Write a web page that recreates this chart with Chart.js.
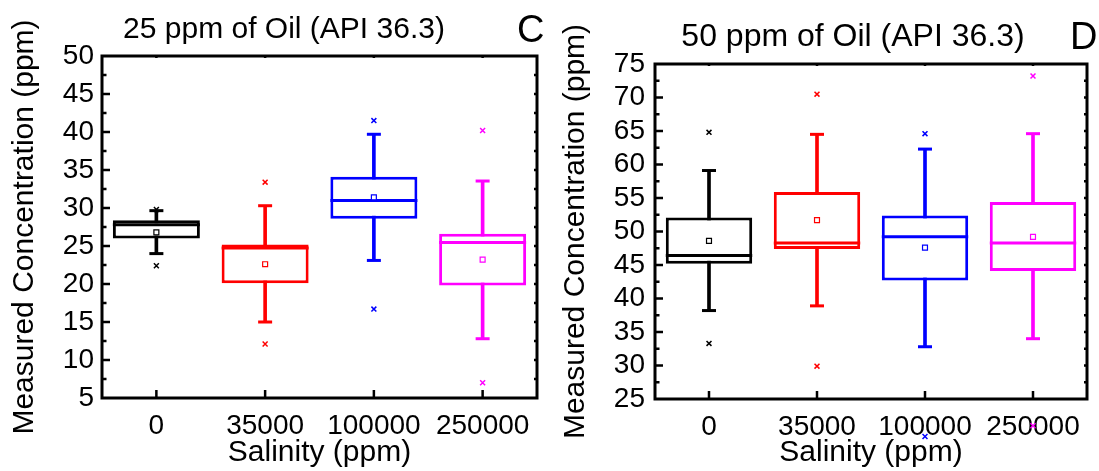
<!DOCTYPE html>
<html>
<head>
<meta charset="utf-8">
<script src="https://cdn.jsdelivr.net/npm/chart.js@4.4.1/dist/chart.umd.min.js"></script>
<style>
  html, body { margin: 0; padding: 0; background: #fff; }
  #wrap { position: relative; width: 1099px; height: 471px; overflow: hidden; font-family: "Liberation Sans", Arial, sans-serif; color: #000; }
  .panel { position: absolute; top: 0; height: 471px; }
  .titulo { position: absolute; white-space: nowrap; transform: translateX(-50%); }
  .letra { position: absolute; font-size: 38px; line-height: 38px; }
</style>
</head>
<body>
<div id="wrap">
  <div class="panel" style="left:0;width:550px"><canvas id="graficoC" width="550" height="471"></canvas></div>
  <div class="panel" style="left:550px;width:549px"><canvas id="graficoD" width="549" height="471"></canvas></div>
  <div class="titulo" style="left:284px;top:13px;font-size:30px;line-height:30px">25 ppm of Oil (API 36.3)</div>
  <div class="letra" style="left:517px;top:10px">C</div>
  <div class="titulo" style="left:853px;top:19px;font-size:32px;line-height:32px">50 ppm of Oil (API 36.3)</div>
  <div class="letra" style="left:1070px;top:17px">D</div>
</div>
<script>
// categorias (salinidad, ppm)
const salinidad = ['0', '35000', '100000', '250000'];
const colores = ['#000000', '#ff0000', '#0000ff', '#ff00ff'];

// panel C: 25 ppm de aceite
const q1C = [26.0, 20.1, 28.6, 19.8];
const medianaC = [27.8, 24.75, 31.0, 25.45];
const q3C = [28.4, 25.2, 34.1, 26.6];
const bigoteBajoC = [24.0, 15.0, 23.1, 12.8];
const bigoteAltoC = [29.65, 30.3, 39.7, 33.55];
const mediaC = [26.8, 22.6, 31.4, 23.2];
const atipicoBajoC = [22.4, 12.1, 16.7, 7.0];
const atipicoAltoC = [29.8, 33.4, 41.5, 40.2];
const ticksC = { min: 5, max: 50, paso: 5 };

// panel D: 50 ppm de aceite
const q1D = [45.2, 47.4, 42.7, 44.1];
const medianaD = [46.4, 48.3, 49.2, 48.3];
const q3D = [52.1, 55.9, 52.4, 54.4];
const bigoteBajoD = [38.2, 38.9, 32.8, 34.0];
const bigoteAltoD = [59.1, 64.5, 62.3, 64.6];
const mediaD = [48.6, 51.7, 47.6, 49.2];
const atipicoBajoD = [33.3, 29.9, 19.4, 21.0];
const atipicoAltoD = [64.8, 70.5, 64.6, 73.2];
const ticksD = { min: 25, max: 75, paso: 5 };

Chart.defaults.font.family = '"Liberation Sans", Arial, sans-serif';
Chart.defaults.color = '#000';

// marco del grafico con ticks hacia adentro
const marco = {
  id: 'marco',
  afterDatasetsDraw(chart) {
    const { ctx, chartArea: a, scales: { x, y } } = chart;
    ctx.save();
    ctx.strokeStyle = '#000';
    ctx.lineWidth = 3;
    ctx.strokeRect(a.left, a.top, a.right - a.left, a.bottom - a.top);
    ctx.lineWidth = 2.5;
    ctx.beginPath();
    const medio = y.options.ticks.stepSize / 2;
    for (let v = y.min + medio; v < y.max - 0.01; v += medio) {
      const py = y.getPixelForValue(v);
      const largo = Math.round((v - y.min) / medio) % 2 === 0 ? 8 : 4.5;
      ctx.moveTo(a.left, py); ctx.lineTo(a.left + largo, py);
      ctx.moveTo(a.right, py); ctx.lineTo(a.right - 3, py);
    }
    x.ticks.forEach((t, i) => {
      const px = x.getPixelForTick(i);
      ctx.moveTo(px, a.bottom); ctx.lineTo(px, a.bottom - 8);
      ctx.moveTo(px, a.top); ctx.lineTo(px, a.top + 2);
    });
    ctx.stroke();

    // puntos atipicos fuera del area (Chart.js no los dibuja)
    chart.data.datasets.forEach((ds, i) => {
      if (!ds.fueraDeArea) return;
      chart.getDatasetMeta(i).data.forEach(p => {
        if (p.y >= a.top && p.y <= a.bottom) return;
        const o = p.options;
        ctx.strokeStyle = o.borderColor;
        ctx.fillStyle = o.backgroundColor;
        ctx.lineWidth = o.borderWidth;
        Chart.helpers.drawPoint(ctx, o, p.x, p.y);
      });
    });
    ctx.restore();
  }
};

function puntos(data, estilo, radio, ancho, extra) {
  return Object.assign({
    type: 'line', data, showLine: false, pointStyle: estilo, pointRadius: radio,
    pointBorderColor: colores, pointBackgroundColor: '#fff', pointBorderWidth: ancho,
    order: 0
  }, extra || {});
}

// la mediana ocupa todo el ancho de la caja (dataset 0)
const anchoCaja = c => {
  const barra = c.chart.getDatasetMeta(0).data[c.dataIndex];
  return barra ? barra.width / 2 : 0;
};

function cajas(q1, mediana, q3, bajo, alto, media, atBajo, atAlto) {
  return [
    {
      type: 'bar', data: q1.map((v, i) => [v, q3[i]]),
      backgroundColor: '#fff', borderColor: colores, borderWidth: 3, borderSkipped: false,
      grouped: false, barPercentage: 0.8, categoryPercentage: 1, order: 2
    },
    {
      type: 'bar', data: bajo.map((v, i) => [v, alto[i]]),
      backgroundColor: colores, borderWidth: 0, barThickness: 3,
      grouped: false, order: 3
    },
    puntos(mediana, 'line', anchoCaja, 3, { order: 1 }),
    puntos(bajo, 'line', 7, 3, { order: 1 }),
    puntos(alto, 'line', 7, 3, { order: 1 }),
    puntos(media, 'rect', 3.5, 1.2),
    puntos(atBajo, 'crossRot', 3.5, 1.5, { fueraDeArea: true }),
    puntos(atAlto, 'crossRot', 3.5, 1.5, { fueraDeArea: true })
  ];
}

function opciones(t, anchoY, altoX, padTop, padRight, padTituloY, padTickY) {
  return {
    responsive: false,
    animation: false,
    events: [],
    layout: { padding: { top: padTop, right: padRight, left: 0, bottom: 0 } },
    plugins: { legend: { display: false }, tooltip: { enabled: false } },
    scales: {
      x: {
        grid: { display: false, drawTicks: false },
        border: { display: false },
        ticks: { font: { size: 28 }, padding: 11, maxRotation: 0, autoSkip: false },
        title: { display: true, text: 'Salinity (ppm)', font: { size: 30 }, padding: { top: 0, bottom: 0 } },
        afterFit(scale) {
          scale.height = altoX;
          scale.paddingLeft = 0;
          scale.paddingRight = 0;
        }
      },
      y: {
        min: t.min, max: t.max,
        grid: { display: false, drawTicks: false },
        border: { display: false },
        ticks: { stepSize: t.paso, font: { size: 28 }, padding: padTickY, autoSkip: false },
        title: { display: true, text: 'Measured Concentration (ppm)', font: { size: 30 }, padding: { top: padTituloY, bottom: 0 } },
        afterFit(scale) { scale.width = anchoY; }
      }
    }
  };
}

new Chart(document.getElementById('graficoC'), {
  type: 'bar',
  data: { labels: salinidad, datasets: cajas(q1C, medianaC, q3C, bigoteBajoC, bigoteAltoC, mediaC, atipicoBajoC, atipicoAltoC) },
  options: opciones(ticksC, 102, 73, 56, 13, 7, 8),
  plugins: [marco]
});

new Chart(document.getElementById('graficoD'), {
  type: 'bar',
  data: { labels: salinidad, datasets: cajas(q1D, medianaD, q3D, bigoteBajoD, bigoteAltoD, mediaD, atipicoBajoD, atipicoAltoD) },
  options: opciones(ticksD, 105, 72, 64, 12, 8, 10),
  plugins: [marco]
});
</script>
</body>
</html>
